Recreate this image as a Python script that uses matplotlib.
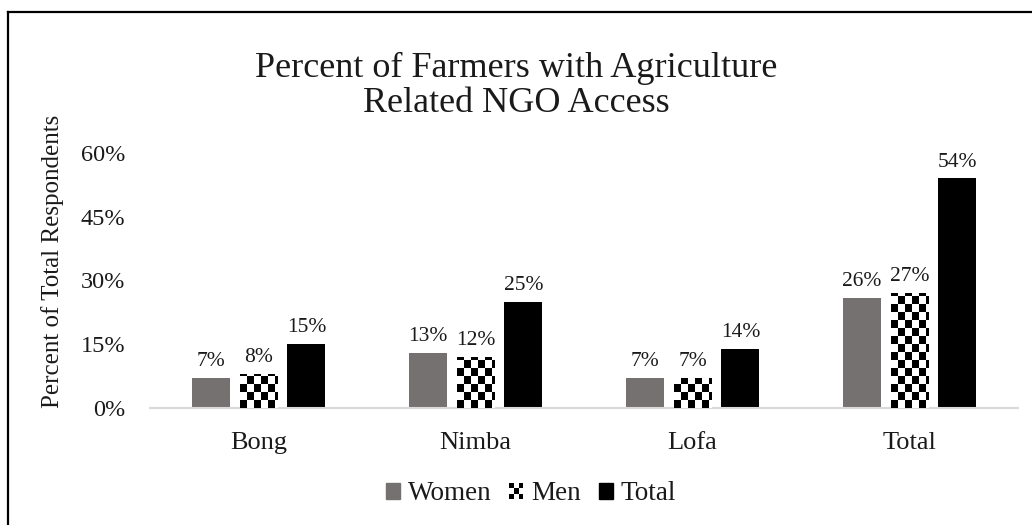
import numpy as np
import matplotlib
matplotlib.use("Agg")
import matplotlib.pyplot as plt
from matplotlib.patches import Rectangle
from matplotlib.lines import Line2D
from matplotlib.legend_handler import HandlerBase

plt.rcParams['font.family'] = ['Liberation Serif', 'DejaVu Serif']

counties = ['Bong', 'Nimba', 'Lofa', 'Total']
women = [0.07, 0.13, 0.07, 0.26]
men = [0.08, 0.12, 0.07, 0.27]
total = [0.15, 0.25, 0.14, 0.54]
yticks = [0, 0.15, 0.30, 0.45, 0.60]

women_color = '#767171'
text_color = '#1a1a1a'

fig = plt.figure(figsize=(10.32, 5.25), dpi=100)
ax = fig.add_axes([150 / 1032, 1 - 408 / 525, 868 / 1032, 255 / 525])

x = np.arange(len(counties))
w = 0.175
step = 0.221


def checker(ax, bar, cell_x, cell_y):
    # fill a bar with a black/white checkerboard clipped to its outline
    x0 = bar.get_x()
    h = bar.get_height()
    nx = int(np.ceil(bar.get_width() / cell_x))
    ny = int(np.ceil(h / cell_y))
    grid = (np.add.outer(np.arange(ny), np.arange(nx)) % 2).astype(float)
    im = ax.imshow(grid, cmap='gray', vmin=0, vmax=1, origin='lower',
                   extent=[x0, x0 + nx * cell_x, 0, ny * cell_y], aspect='auto',
                   interpolation='nearest', zorder=3)
    im.set_clip_path(bar)


b1 = ax.bar(x - step, women, w, color=women_color, zorder=2)
b2 = ax.bar(x, men, w, color='white', edgecolor='none', zorder=2)
b3 = ax.bar(x + step, total, w, color='black', zorder=2)

for bar in b2:
    checker(ax, bar, w * 7 / 38, 0.0188)

for bars, vals in [(b1, women), (b2, men), (b3, total)]:
    for bar, v in zip(bars, vals):
        ax.annotate(f'{v * 100:.0f}%', (bar.get_x() + bar.get_width() / 2, v),
                    xytext=(0, 5), textcoords='offset points', ha='center',
                    va='bottom', fontsize=15.5, color=text_color)

ax.set_xlim(-0.5, 3.5)
ax.set_ylim(0, 0.6)
ax.set_xticks(x)
ax.set_xticklabels(counties, fontsize=19, color=text_color)
ax.tick_params(length=0)
ax.set_yticks(yticks)
ax.set_yticklabels([f'{t * 100:.0f}%' for t in yticks], fontsize=17.5, color=text_color)
ax.tick_params(axis='x', pad=17)
ax.tick_params(axis='y', pad=18)
for s in ['top', 'right', 'left']:
    ax.spines[s].set_visible(False)
ax.spines['bottom'].set_color('#d9d9d9')
ax.spines['bottom'].set_linewidth(1.5)

fig.text(53 / 1032, 1 - 261 / 525, 'Percent of Total Respondents', rotation=90,
         ha='center', va='center', fontsize=18, color=text_color)
fig.text(0.5, 1 - 86 / 525, 'Percent of Farmers with Agriculture\nRelated NGO Access',
         ha='center', va='center', fontsize=26, linespacing=1.05, color=text_color)


class CheckerHandler(HandlerBase):
    def create_artists(self, legend, orig_handle, xdescent, ydescent,
                       width, height, fontsize, trans):
        arts = []
        n = 3
        cw, ch = width / n, height / n
        for i in range(n):
            for j in range(n):
                c = 'black' if (i + j) % 2 == 0 else 'white'
                arts.append(Rectangle((-xdescent + i * cw, -ydescent + j * ch), cw, ch,
                                      facecolor=c, edgecolor='none', transform=trans))
        return arts


h_women = Rectangle((0, 0), 1, 1, color=women_color)
h_men = Rectangle((0, 0), 1, 1, color='black')
h_total = Rectangle((0, 0), 1, 1, color='black')
fig.legend([h_women, h_men, h_total], ['Women', 'Men', 'Total'],
           handler_map={h_men: CheckerHandler()},
           loc='center', bbox_to_anchor=(531 / 1032, 1 - 494 / 525), ncol=3,
           frameon=False, fontsize=19.5, handlelength=0.52, handleheight=0.52,
           handletextpad=0.3, columnspacing=0.65, labelcolor=text_color)

# frame around the chart, only the top and left edges fall inside the canvas
fig.add_artist(Line2D([7.5 / 1032, 7.5 / 1032], [0, 1 - 11.5 / 525],
                      transform=fig.transFigure, color='black', linewidth=1.6))
fig.add_artist(Line2D([7.5 / 1032, 1], [1 - 11.5 / 525, 1 - 11.5 / 525],
                      transform=fig.transFigure, color='black', linewidth=1.6))

fig.savefig('out.png', dpi=100, facecolor='white')
